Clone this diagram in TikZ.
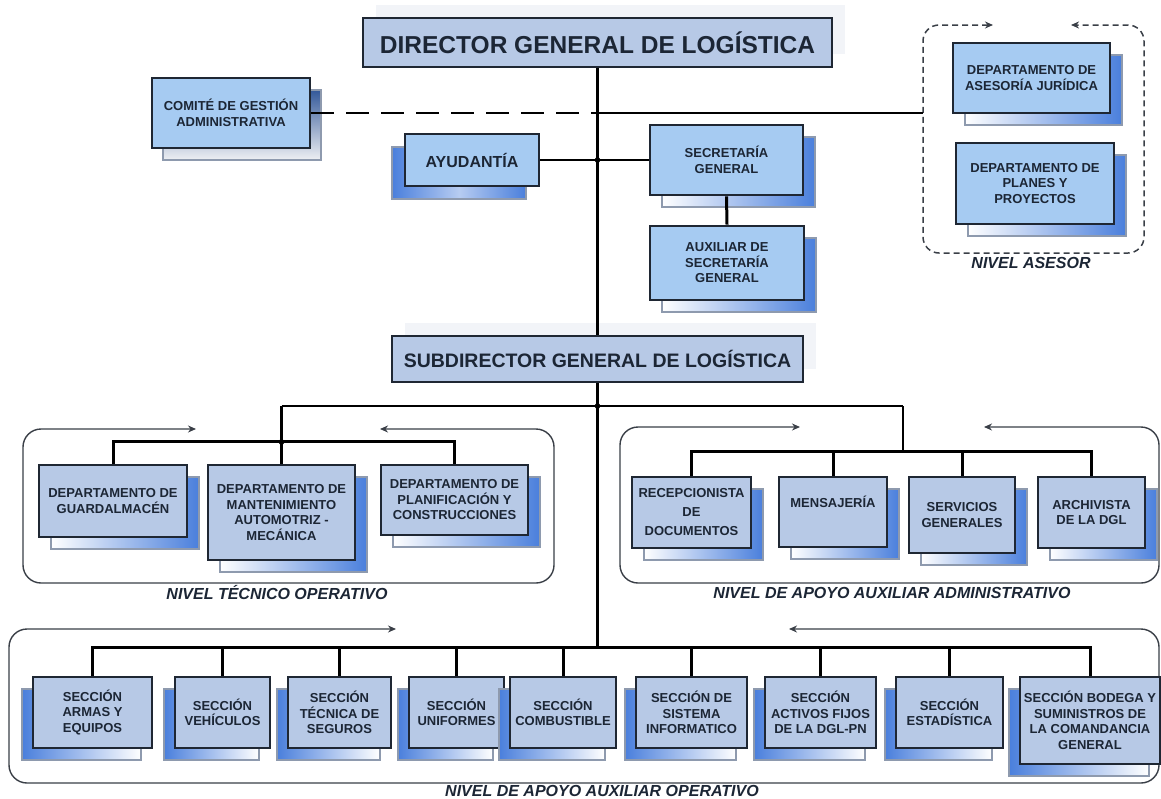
\documentclass[tikz,border=0pt]{standalone}
\usepackage{fontspec}
\setmainfont{Liberation Sans}
\usetikzlibrary{arrows.meta}

\definecolor{inkc}{HTML}{1C2635}
\definecolor{edgec}{HTML}{1F2733}
\definecolor{steelfill}{HTML}{B7C9E6}
\definecolor{skyfill}{HTML}{A6CBF2}
\definecolor{shadeblue}{HTML}{4A7FDC}
\definecolor{shadeedge}{HTML}{8E9AAE}
\definecolor{haze}{HTML}{F2F4F8}
\definecolor{framec}{HTML}{3A3F47}

\tikzset{
  unit/.style={draw=edgec, line width=2.6pt, inner sep=1pt, align=center, text=inkc,
    font=\bfseries\fontsize{13}{15.5}\selectfont},
  skyunit/.style={unit, fill=skyfill},
  steelunit/.style={unit, fill=steelfill, line width=2pt},
  headunit/.style={unit, fill=steelfill, line width=2.8pt},
  hazeback/.style={shift={(13,-13)}, fill=haze},
  dropR/.style={shift={(12,12)}, left color=white, right color=shadeblue, draw=shadeedge, line width=1.5pt},
  dropTop/.style={shift={(11,12)}, top color=shadeblue!70!black, bottom color=white!85!shadeedge, draw=shadeedge, line width=1.5pt},
  dropL/.style={shift={(-11,12)}, left color=shadeblue, right color=white, draw=shadeedge, line width=1.5pt},
  dropLmid/.style={shift={(-13,13)}, left color=shadeblue, right color=shadeblue, middle color=white!60!shadeblue, draw=shadeedge, line width=1.5pt},
  wire/.style={draw=black, line width=2.2pt},
  bar/.style={draw=black, line width=3pt},
  looseline/.style={draw=black, line width=2pt, dash pattern=on 23pt off 12pt},
  knot/.style={fill=black},
  tipboth/.style={{Stealth[length=8pt,width=7pt]}-{Stealth[length=8pt,width=7pt]}},
  levelframe/.style={draw=framec, line width=1.4pt, rounded corners=18pt, tipboth},
  advframe/.style={draw=framec, line width=1.5pt, rounded corners=16pt, dash pattern=on 6pt off 4pt, tipboth},
  levellabel/.style={text=inkc, font=\bfseries\itshape\fontsize{16}{18}\selectfont}
}

% #1 name, #2 box style, #3 shadow style, #4-#7 corners (x1,y1,x2,y2), #8 text
\newcommand{\orgunit}[8]{%
  \path[#3] (#4,#5) rectangle (#6,#7);
  \node[#2, minimum width={#6-#4}, minimum height={#7-#5}] (#1)
    at ({(#4+#6)/2},{(#5+#7)/2}) {#8};}

\begin{document}
\begin{tikzpicture}[x=1pt, y=-1pt]
\useasboundingbox (0,0) rectangle (1161,798);
\fill[white] (0,0) rectangle (1161,798);

% ---- level frames ----
\draw[advframe] (993,25) -- (923,25) -- (923,253) -- (1144,253) -- (1144,25) -- (1071,25);
\draw[levelframe] (196,429) -- (23,429) -- (23,583) -- (554,583) -- (554,429) -- (380,429);
\draw[levelframe] (800,427) -- (620,427) -- (620,583) -- (1159,583) -- (1159,427) -- (984,427);
\draw[levelframe] (396,629) -- (9,629) -- (9,783) -- (1159,783) -- (1159,629) -- (789,629);

% ---- direction ----
\orgunit{dir}{headunit, font=\bfseries\fontsize{24.5}{28}\selectfont}{hazeback}{363}{18}{832}{67}{DIRECTOR GENERAL DE LOGÍSTICA}
\orgunit{sub}{headunit, font=\bfseries\fontsize{19.5}{23}\selectfont}{hazeback}{392}{336}{803}{382}{SUBDIRECTOR GENERAL DE LOGÍSTICA}

% ---- staff units ----
\orgunit{com}{skyunit}{dropTop}{152}{78}{310}{148}{COMITÉ DE GESTIÓN\\ADMINISTRATIVA}
\orgunit{ayu}{skyunit, font=\bfseries\fontsize{16}{18}\selectfont}{dropLmid}{405}{134}{539}{186}{AYUDANTÍA}
\orgunit{sec}{skyunit}{dropR}{650}{125}{803}{195}{SECRETARÍA\\GENERAL}
\orgunit{aux}{skyunit}{dropR}{650}{226}{804}{300}{AUXILIAR DE\\SECRETARÍA\\GENERAL}
\orgunit{jur}{skyunit}{dropR}{953}{43}{1110}{113}{DEPARTAMENTO DE\\ASESORÍA JURÍDICA}
\orgunit{pla}{skyunit}{dropR}{956}{143}{1114}{224}{DEPARTAMENTO DE\\PLANES Y\\PROYECTOS}

% ---- technical operative level ----
\orgunit{gua}{steelunit}{dropR}{39}{465}{187}{537}{DEPARTAMENTO DE\\GUARDALMACÉN}
\orgunit{man}{steelunit}{dropR}{208}{465}{355}{560}{DEPARTAMENTO DE\\MANTENIMIENTO\\AUTOMOTRIZ -\\MECÁNICA}
\orgunit{plc}{steelunit}{dropR}{381}{465}{528}{535}{DEPARTAMENTO DE\\PLANIFICACIÓN Y\\CONSTRUCCIONES}

% ---- administrative support level ----
\orgunit{rec}{steelunit, font=\bfseries\fontsize{13}{19}\selectfont}{dropR}{632}{477}{751}{548}{RECEPCIONISTA\\DE\\DOCUMENTOS}
\orgunit{men}{steelunit}{dropR}{779}{477}{887}{547}{MENSAJERÍA\\\strut}
\orgunit{ser}{steelunit}{dropR}{909}{477}{1015}{553}{SERVICIOS\\GENERALES}
\orgunit{arc}{steelunit}{dropR}{1038}{477}{1145}{548}{ARCHIVISTA\\DE LA DGL}

% ---- operative support level ----
\orgunit{s1}{steelunit}{dropL}{33}{677}{152}{748}{SECCIÓN\\ARMAS Y\\EQUIPOS}
\orgunit{s2}{steelunit}{dropL}{175}{677}{270}{748}{SECCIÓN\\VEHÍCULOS}
\orgunit{s3}{steelunit}{dropL}{288}{677}{391}{748}{SECCIÓN\\TÉCNICA DE\\SEGUROS}
\orgunit{s4}{steelunit}{dropL}{409}{677}{504}{748}{SECCIÓN\\UNIFORMES}
\orgunit{s5}{steelunit}{dropL}{510}{677}{616}{748}{SECCIÓN\\COMBUSTIBLE}
\orgunit{s6}{steelunit}{dropL}{636}{677}{747}{748}{SECCIÓN DE\\SISTEMA\\INFORMATICO}
\orgunit{s7}{steelunit}{dropL}{765}{677}{876}{748}{SECCIÓN\\ACTIVOS FIJOS\\DE LA DGL-PN}
\orgunit{s8}{steelunit}{dropL}{896}{677}{1003}{748}{SECCIÓN\\ESTADÍSTICA}
\orgunit{s9}{steelunit}{dropL}{1020}{677}{1160}{764}{SECCIÓN BODEGA Y\\SUMINISTROS DE\\LA COMANDANCIA\\GENERAL}

% ---- level captions ----
\node[levellabel] (capAdv) at (1031,263) {NIVEL ASESOR};
\node[levellabel] (capTec) at (277,593) {NIVEL TÉCNICO OPERATIVO};
\node[levellabel] (capAdm) at (892,593) {NIVEL DE APOYO AUXILIAR ADMINISTRATIVO};
\node[levellabel] (capOpe) at (602,791) {NIVEL DE APOYO AUXILIAR OPERATIVO};

% ---- junction points ----
\coordinate (jAdv) at (597.5,113);
\coordinate (advIn) at (923,113);
\coordinate (jSub) at (597.5,406);
\coordinate (jTecTop) at (281.5,406);
\coordinate (jAdmTop) at (903,406);
\coordinate (jTec) at (281.5,442);
\coordinate (jAdm) at (903,452);
\coordinate (jBot) at (597.5,648);

% ---- connectors ----
\draw[wire] (dir.south) -- (sub.north);
\draw[wire] (sub.south) -- (jBot);
\draw[looseline] (com.east) -- (jAdv);
\draw[wire] (jAdv) -- (advIn);
\draw[wire] (ayu.east) -- (sec.west);
\draw[bar] (sec.south) -- (aux.north);
\fill[knot] (ayu.east -| dir.south) circle (2.8pt);

\draw[wire] (jTecTop) -- (jAdmTop);
\draw[wire] (jTecTop) -- (jTec);
\draw[wire] (jAdmTop) -- (jAdm);
\fill[knot] (jSub) circle (2.8pt);
\fill[knot] (jTec) circle (2.8pt);

\draw[bar] (gua.north) -- ++(0,-23) -| (plc.north);
\draw[bar] (man.north) -- (jTec);

\draw[bar] (rec.north) -- ++(0,-25) -| (arc.north);
\draw[bar] (men.north) -- (men.north |- jAdm);
\draw[bar] (ser.north) -- (ser.north |- jAdm);

\draw[bar] (s1.north) -- ++(0,-29) -| (s9.north);
\foreach \s in {s2,s3,s4,s5,s6,s7,s8}
  \draw[bar] (\s.north) -- (\s.north |- jBot);
\end{tikzpicture}
\end{document}
